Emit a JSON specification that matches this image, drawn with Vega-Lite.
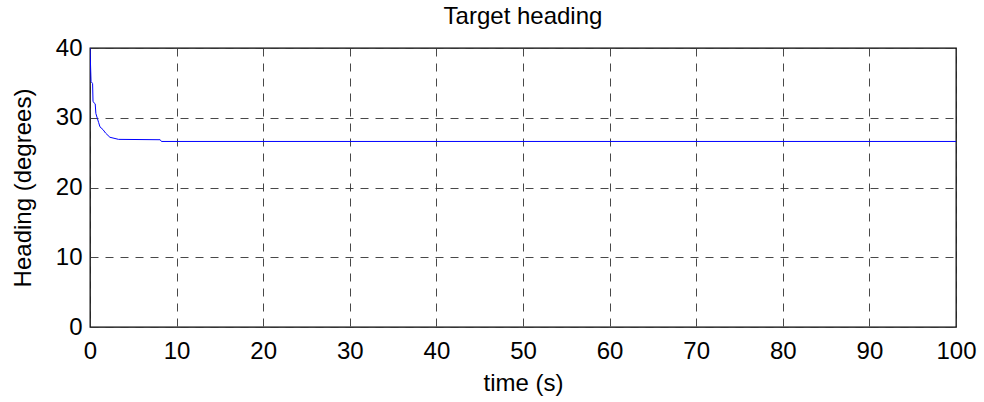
{
  "$schema": "https://vega.github.io/schema/vega-lite/v6.json",
  "width": 866,
  "height": 279,
  "autosize": {"type": "none"},
  "padding": {"left": 90, "top": 48, "right": 28, "bottom": 75},
  "background": "white",
  "title": {
    "text": "Target heading",
    "font": "Liberation Sans",
    "fontSize": 24,
    "fontWeight": "normal",
    "color": "black",
    "anchor": "middle",
    "frame": "group",
    "baseline": "bottom",
    "offset": -17
  },
  "config": {
    "view": {"stroke": "black", "strokeWidth": 1.3},
    "axis": {
      "labelFont": "Liberation Sans",
      "labelFontSize": 24,
      "labelColor": "black",
      "titleFont": "Liberation Sans",
      "titleFontSize": 24,
      "titleFontWeight": "normal",
      "titleColor": "black",
      "domain": false,
      "ticks": false,
      "grid": true,
      "gridColor": "#333333",
      "gridWidth": 0.9,
      "gridDash": [8, 7]
    }
  },
  "data": {
    "values": [
      {"t": 0, "v": 40},
      {"t": 0.12, "v": 35.2},
      {"t": 0.3, "v": 34.9},
      {"t": 0.35, "v": 32.3},
      {"t": 0.6, "v": 32.0},
      {"t": 0.68, "v": 30.6},
      {"t": 0.85, "v": 29.9},
      {"t": 1.0, "v": 29.3},
      {"t": 1.15, "v": 28.7},
      {"t": 1.5, "v": 28.3},
      {"t": 1.8, "v": 27.8},
      {"t": 2.3, "v": 27.2},
      {"t": 3.3, "v": 26.9},
      {"t": 8.1, "v": 26.85},
      {"t": 8.25, "v": 26.6},
      {"t": 100, "v": 26.6}
    ]
  },
  "mark": {"type": "line", "color": "#0000ff", "strokeWidth": 1, "clip": true},
  "encoding": {
    "x": {
      "field": "t",
      "type": "quantitative",
      "scale": {"domain": [0, 100], "nice": false},
      "axis": {
        "title": "time (s)",
        "values": [0, 10, 20, 30, 40, 50, 60, 70, 80, 90, 100],
        "labelPadding": 12,
        "titlePadding": 8,
        "labelFlush": false
      }
    },
    "y": {
      "field": "v",
      "type": "quantitative",
      "scale": {"domain": [0, 40], "nice": false},
      "axis": {
        "title": "Heading (degrees)",
        "values": [0, 10, 20, 30, 40],
        "labelPadding": 8,
        "titlePadding": 20,
        "labelFlush": false
      }
    }
  }
}
